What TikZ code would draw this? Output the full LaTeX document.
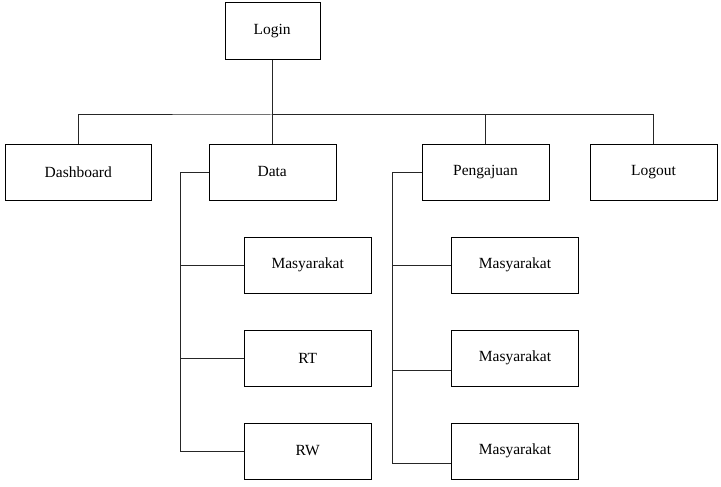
\documentclass[tikz,border=0pt]{standalone}
\usepackage{fontspec}
\setmainfont{Liberation Serif}
\usetikzlibrary{positioning}
\tikzstyle{block} = [draw, rectangle, minimum height=56pt, minimum width=127pt, inner sep=0pt, font=\fontsize{15.5}{18}\selectfont]
\tikzstyle{coord} = [coordinate]
\tikzstyle{line} = [draw, line width=1pt, black!85]

\begin{document}
\begin{tikzpicture}[x=1pt,y=-1pt]
    \useasboundingbox (0,0) rectangle (721,487);
    \node [block, minimum width=95pt, minimum height=57pt] (login) at (272.2,31.2) {Login};
    \node [block, minimum width=146pt] (dashboard) at (78.3,172) {Dashboard};
    \node [block] (data) at (272.2,172) {Data};
    \node [block] (pengajuan) at (485.5,172) {Pengajuan};
    \node [block] (logout) at (653.5,172) {Logout};

    \node [block] (masyarakat) at (307.7,265) {Masyarakat};
    \node [block] (rt) at (307.7,358) {RT};
    \node [block] (rw) at (307.7,451) {RW};

    \node [block] (pmasyarakat1) at (515,265) {Masyarakat};
    \node [block] (pmasyarakat2) at (515,358) {Masyarakat};
    \node [block] (pmasyarakat3) at (515,451) {Masyarakat};

    \node [coord] (bus) at (272.2,115) {};
    \node [coord] (dtrunk) at (180,172) {};
    \node [coord] (ptrunk) at (392.5,172) {};
    \node [coord] (pin2) at ([yshift=-12pt]pmasyarakat2.west) {};
    \node [coord] (pin3) at ([yshift=-12pt]pmasyarakat3.west) {};

    \draw [line] (login.south) -- (data.north);
    \draw [line] (dashboard.north) |- (bus) -| (pengajuan.north);
    \draw [line] (bus) -| (logout.north);

    \draw [line] (data.west) -- (dtrunk) |- (rw.west);
    \draw [line] (dtrunk |- masyarakat.west) -- (masyarakat.west);
    \draw [line] (dtrunk |- rt.west) -- (rt.west);

    \draw [line] (pengajuan.west) -- (ptrunk) |- (pin3);
    \draw [line] (ptrunk |- pmasyarakat1.west) -- (pmasyarakat1.west);
    \draw [line] (ptrunk |- pin2) -- (pin2);
\end{tikzpicture}
\end{document}
